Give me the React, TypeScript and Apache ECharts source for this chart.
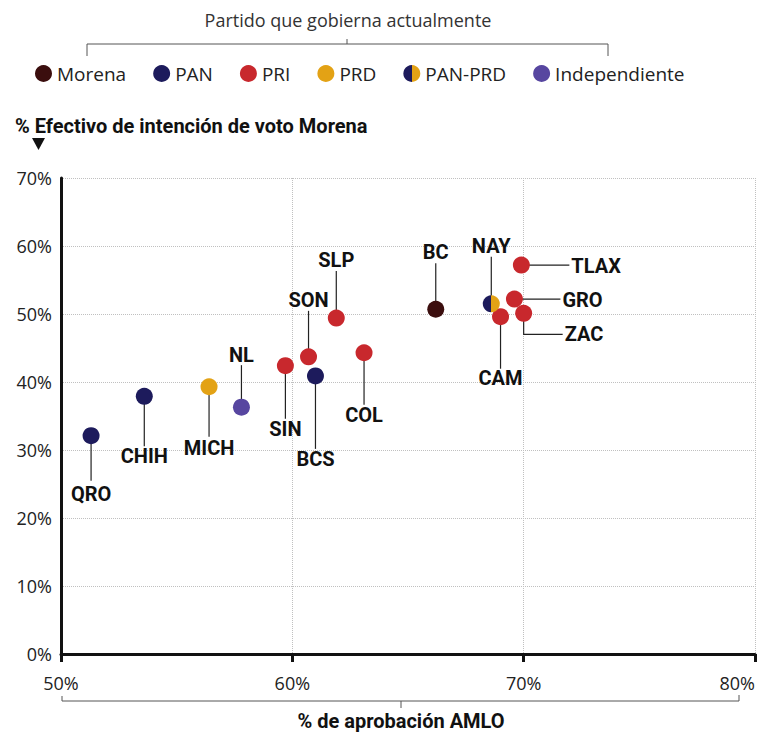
import React, { useEffect, useRef } from "react";
import * as echarts from "echarts";

const states = ["QRO", "CHIH", "MICH", "NL", "SIN", "SON", "BCS", "SLP", "COL", "BC", "NAY", "CAM", "TLAX", "GRO", "ZAC"];
const approval = [51.3, 53.6, 56.4, 57.8, 59.7, 60.7, 61.0, 61.9, 63.1, 66.2, 68.6, 69.0, 69.9, 69.6, 70.0];
const voteMorena = [32.1, 37.9, 39.3, 36.3, 42.4, 43.7, 40.9, 49.4, 44.3, 50.7, 51.5, 49.6, 57.2, 52.2, 50.1];
const party = ["PAN", "PAN", "PRD", "Independiente", "PRI", "PRI", "PAN", "PRI", "PRI", "Morena", "PAN-PRD", "PRI", "PRI", "PRI", "PRI"];
const parties = ["Morena", "PAN", "PRI", "PRD", "PAN-PRD", "Independiente"];
const xTicks = { min: 50, max: 80, step: 10 };
const yTicks = { min: 0, max: 70, step: 10 };

const PAN_C = "#1d1b5c";
const PRD_C = "#e3a215";
const partyColors: Record<string, any> = {
  Morena: "#3b0e0e",
  PAN: PAN_C,
  PRI: "#c8282d",
  PRD: PRD_C,
  "PAN-PRD": new echarts.graphic.LinearGradient(0, 0, 1, 0, [
    { offset: 0, color: PAN_C },
    { offset: 0.5, color: PAN_C },
    { offset: 0.5, color: PRD_C },
    { offset: 1, color: PRD_C },
  ]),
  Independiente: "#5746a0",
};

// label placement (pixel offsets relative to each point)
const labelLayout: Record<string, { line: number[][]; tx: number; ty: number; align: string }> = {
  QRO: { line: [[0, 0], [0, 45]], tx: 0, ty: 58, align: "center" },
  CHIH: { line: [[0, 0], [0, 50]], tx: 0, ty: 60, align: "center" },
  MICH: { line: [[0, 0], [0, 50]], tx: 0, ty: 61, align: "center" },
  NL: { line: [[0, 0], [0, -42]], tx: 0, ty: -52, align: "center" },
  SIN: { line: [[0, 0], [0, 53]], tx: 0, ty: 63, align: "center" },
  SON: { line: [[0, 0], [0, -46]], tx: 0, ty: -57, align: "center" },
  BCS: { line: [[0, 0], [0, 73]], tx: 0, ty: 83, align: "center" },
  SLP: { line: [[0, 0], [0, -47]], tx: 0, ty: -58, align: "center" },
  COL: { line: [[0, 0], [0, 52]], tx: 0, ty: 62, align: "center" },
  BC: { line: [[0, 0], [0, -46]], tx: 0, ty: -57, align: "center" },
  NAY: { line: [[0, 0], [0, -47]], tx: 0, ty: -58, align: "center" },
  CAM: { line: [[0, 0], [0, 52]], tx: 0, ty: 61, align: "center" },
  TLAX: { line: [[0, 0], [48, 0]], tx: 50, ty: 1, align: "left" },
  GRO: { line: [[0, 0], [46, 0]], tx: 48, ty: 1, align: "left" },
  ZAC: { line: [[0, 0], [0, 21], [39, 21]], tx: 41, ty: 21, align: "left" },
};

export default function App() {
  const ref = useRef<HTMLDivElement>(null);
  useEffect(() => {
    document.body.style.margin = "0";
    const chart = echarts.init(ref.current!, null, { renderer: "svg" });
    const pointData = states.map((s, i) => [approval[i], voteMorena[i], s]);
    const scatterSeries = parties.map((p) => ({
      name: p,
      type: "scatter",
      symbol: "circle",
      symbolSize: 17,
      z: 5,
      itemStyle: { color: partyColors[p], opacity: 1 },
      data: pointData.filter((_, i) => party[i] === p),
    }));
    const option: any = {
      animation: false,
      grid: { left: 61, right: 3, top: 178, bottom: 84 },
      legend: {
        data: parties,
        left: 30,
        top: 59,
        icon: "circle",
        itemWidth: 17,
        itemHeight: 17,
        itemGap: 27,
        selectedMode: false,
        textStyle: { fontSize: 19, fontFamily: "Open Sans", color: "#222" },
      },
      xAxis: {
        type: "value",
        min: xTicks.min,
        max: xTicks.max,
        interval: xTicks.step,
        axisLine: { show: true, lineStyle: { color: "#111", width: 3 } },
        axisTick: { show: true, length: 8, lineStyle: { color: "#111", width: 3 } },
        axisLabel: {
          formatter: "{value}%",
          fontSize: 18,
          fontFamily: "Open Sans",
          color: "#222",
          margin: 20,
          alignMaxLabel: "right",
        },
        splitLine: { show: true, lineStyle: { type: "dotted", color: "#c0c0c0", width: 1 } },
      },
      yAxis: {
        type: "value",
        min: yTicks.min,
        max: yTicks.max,
        interval: yTicks.step,
        axisLine: { show: true, lineStyle: { color: "#111", width: 3 } },
        axisTick: { show: false },
        axisLabel: {
          formatter: "{value}%",
          fontSize: 18,
          fontFamily: "Open Sans",
          color: "#222",
          margin: 9,
        },
        splitLine: { show: true, lineStyle: { type: "dotted", color: "#c0c0c0", width: 1 } },
      },
      graphic: [
        {
          type: "text",
          x: 348,
          y: 20,
          style: {
            text: "Partido que gobierna actualmente",
            fontSize: 18,
            fontFamily: "Open Sans",
            fill: "#333",
            align: "center",
            verticalAlign: "middle",
          },
        },
        {
          type: "polyline",
          shape: { points: [[87, 56], [87, 44], [608, 44], [608, 56]] },
          style: { stroke: "#555", lineWidth: 1, fill: null },
        },
        { type: "line", shape: { x1: 347, y1: 39, x2: 347, y2: 44 }, style: { stroke: "#555", lineWidth: 1 } },
        {
          type: "text",
          x: 15,
          y: 126,
          style: {
            text: "% Efectivo de intención de voto Morena",
            fontSize: 20,
            fontWeight: "bold",
            fontFamily: "Roboto",
            fill: "#111",
            align: "left",
            verticalAlign: "middle",
          },
        },
        {
          type: "polygon",
          shape: { points: [[32, 138], [45, 138], [38.5, 150]] },
          style: { fill: "#111" },
        },
        {
          type: "polyline",
          shape: { points: [[62, 696], [62, 701], [739, 701], [739, 695]] },
          style: { stroke: "#555", lineWidth: 1, fill: null },
        },
        { type: "line", shape: { x1: 401, y1: 701, x2: 401, y2: 708 }, style: { stroke: "#555", lineWidth: 1 } },
        {
          type: "text",
          x: 401,
          y: 721,
          style: {
            text: "% de aprobación AMLO",
            fontSize: 20,
            fontWeight: "bold",
            fontFamily: "Roboto",
            fill: "#111",
            align: "center",
            verticalAlign: "middle",
          },
        },
      ],
      series: [
        {
          type: "custom",
          name: "labels",
          z: 2,
          silent: true,
          encode: { x: 0, y: 1 },
          data: states.map((s, i) => [approval[i], voteMorena[i]]),
          renderItem: (params: any, api: any) => {
            const i = params.dataIndex;
            const p = api.coord([api.value(0), api.value(1)]);
            const L = labelLayout[states[i]];
            const pts = L.line.map(([dx, dy]) => [p[0] + dx, p[1] + dy]);
            return {
              type: "group",
              children: [
                { type: "polyline", shape: { points: pts }, style: { stroke: "#222", lineWidth: 1.2, fill: null } },
                {
                  type: "text",
                  x: p[0] + L.tx,
                  y: p[1] + L.ty,
                  style: {
                    text: states[i],
                    fontSize: 20,
                    fontWeight: "bold",
                    fontFamily: "Roboto",
                    fill: "#111",
                    align: L.align,
                    verticalAlign: "middle",
                  },
                },
              ],
            };
          },
        },
        ...scatterSeries,
      ],
    };
    chart.setOption(option);
    return () => chart.dispose();
  }, []);
  return <div ref={ref} style={{ width: 758, height: 738 }} />;
}
